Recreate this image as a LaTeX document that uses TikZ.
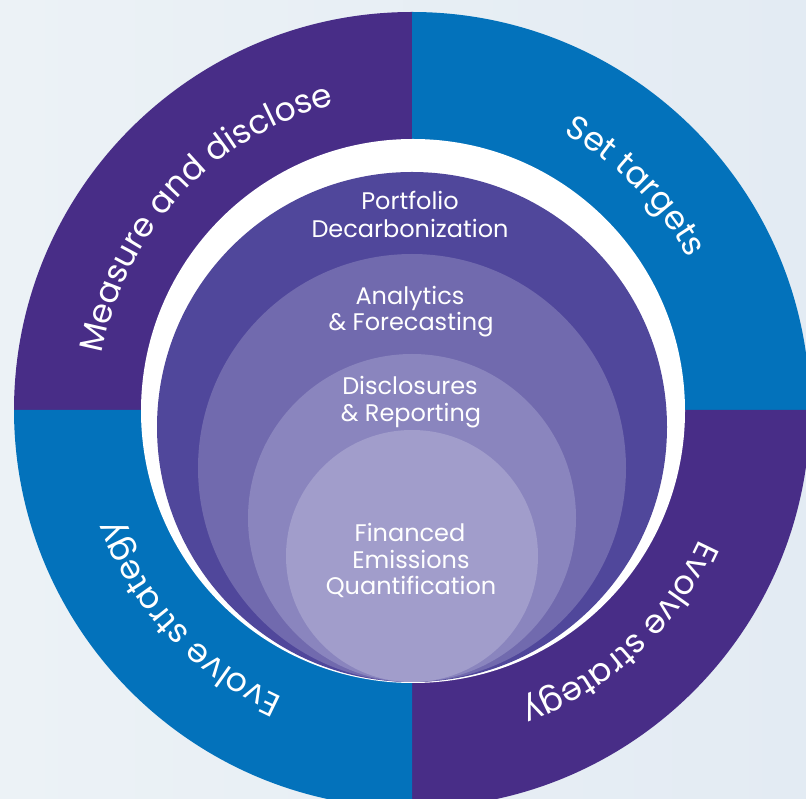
\documentclass[tikz,border=0pt]{standalone}
\usepackage{fontspec}
\setmainfont{Poppins}
\usetikzlibrary{decorations.text}
\definecolor{bgleft}{RGB}{236,242,246}
\definecolor{bgright}{RGB}{227,235,243}
\definecolor{ringpurple}{RGB}{72,45,135}
\definecolor{ringblue}{RGB}{3,114,187}
\definecolor{cportfolio}{RGB}{80,71,155}
\definecolor{canalytics}{RGB}{113,106,174}
\definecolor{cdisclosure}{RGB}{138,133,190}
\definecolor{cfinanced}{RGB}{161,157,203}
\newcommand\ringfont{\fontsize{33}{33}\selectfont\color{white}}
\begin{document}
\begin{tikzpicture}[x=1pt,y=1pt,
  intext/.style={anchor=base, text=white, font=\fontsize{24}{28}\selectfont, inner sep=0pt},
  ringtext/.style={decorate, decoration={text along path, text align=center}}]
\clip (0,0) rectangle (806,798);
\shade[left color=bgleft, right color=bgright] (0,0) rectangle (806,798);
\coordinate (C) at (412,388);
% outer ring quadrants
\fill[ringpurple] (C) -- ++(180:398) arc[start angle=180, end angle=90, radius=398] -- cycle;
\fill[ringblue] (C) -- ++(90:398) arc[start angle=90, end angle=0, radius=398] -- cycle;
\fill[ringpurple] (C) -- ++(0:398) arc[start angle=0, end angle=-90, radius=398] -- cycle;
\fill[ringblue] (C) -- ++(270:398) arc[start angle=270, end angle=180, radius=398] -- cycle;
% white gap
\coordinate (W) at (413,387);
\fill[white] (W) circle[radius=272];
% nested circles
\coordinate (P) at (412,371);
\coordinate (A) at (412,330);
\coordinate (D) at (412,280);
\coordinate (F) at (412,242);
\fill[cportfolio] (P) circle[radius=255];
\fill[canalytics] (A) circle[radius=214];
\fill[cdisclosure] (D) circle[radius=164];
\fill[cfinanced] (F) circle[radius=126];
% inner labels
\node[intext] (pf1) at (410,588) {Portfolio};
\node[intext] (pf2) at (410,560) {Decarbonization};
\node[intext] (an1) at (410,493) {Analytics};
\node[intext] (an2) at (411,467) {\& Forecasting};
\node[intext] (di1) at (410,403) {Disclosures};
\node[intext] (di2) at (411,376) {\& Reporting};
\node[intext] (fi1) at (410,256) {Financed};
\node[intext] (fi2) at (411,229) {Emissions};
\node[intext] (fi3) at (411,203) {Quantification};
% ring labels (clockwise, tops outward)
\path[ringtext, decoration={text={|\ringfont|Measure and disclose}}]
  ([shift={(207:315)}]C) arc[start angle=207, end angle=67, radius=315];
\path[ringtext, decoration={text={|\ringfont|Set targets}}]
  ([shift={(115:315)}]C) arc[start angle=115, end angle=-25, radius=315];
\path[ringtext, decoration={text={|\ringfont|Evolve strategy}}]
  ([shift={(23:315)}]C) arc[start angle=23, end angle=-117, radius=315];
\path[ringtext, decoration={text={|\ringfont|Evolve strategy}}]
  ([shift={(293:315)}]C) arc[start angle=293, end angle=153, radius=315];
\end{tikzpicture}
\end{document}
